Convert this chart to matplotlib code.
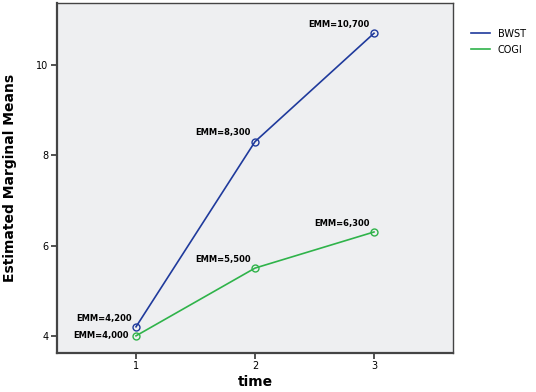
import matplotlib
matplotlib.use('agg')
import matplotlib.pyplot as plt
from matplotlib.lines import Line2D

# ---------------- data --------------------
time = [1, 2, 3]
bwst = [4.2, 8.3, 10.7]
cogi = [4.0, 5.5, 6.3]
bwst_lbl = ["EMM=4,200", "EMM=8,300", "EMM=10,700"]
cogi_lbl = ["EMM=4,000", "EMM=5,500", "EMM=6,300"]

blue = '#1f3a9c'
green = '#2fb34a'

fig = plt.figure(figsize=(5.36, 3.92), dpi=100)
ax = fig.add_axes([57/536, 1 - 353/392, 396/536, 350/392])
ax.set_facecolor('#eeeff1')

ax.plot(time, bwst, color=blue, lw=1.2, marker='o', ms=5, mfc='none', mec=blue, mew=1)
ax.plot(time, cogi, color=green, lw=1.2, marker='o', ms=5, mfc='none', mec=green, mew=1)

# labels next to the points
for x, y, t in zip(time, bwst, bwst_lbl):
    ax.annotate(t, (x, y), xytext=(-3, 3), textcoords='offset points',
                ha='right', va='bottom', fontsize=6, fontweight='bold')
for i, (x, y, t) in enumerate(zip(time, cogi, cogi_lbl)):
    if i == 0:
        ax.annotate(t, (x, y), xytext=(-5, 0), textcoords='offset points',
                    ha='right', va='center', fontsize=6, fontweight='bold')
    else:
        ax.annotate(t, (x, y), xytext=(-3, 3), textcoords='offset points',
                    ha='right', va='bottom', fontsize=6, fontweight='bold')

ax.set_xlim(0.336, 3.664)
ax.set_ylim(3.62, 11.37)
ax.set_xticks(time)
ax.set_yticks([4, 6, 8, 10])
ax.tick_params(labelsize=7, length=4, width=1.2, color='#333333', pad=2)

for s in ax.spines.values():
    s.set_color('#444444')
    s.set_linewidth(1.0)
ax.spines['left'].set_linewidth(1.6)
ax.spines['bottom'].set_linewidth(1.6)

ax.set_xlabel('time', fontsize=10, fontweight='bold', labelpad=3)
ax.set_ylabel('Estimated Marginal Means', fontsize=10, fontweight='bold', labelpad=14)

handles = [Line2D([], [], color=blue, lw=1.2), Line2D([], [], color=green, lw=1.2)]
fig.legend(handles, ['BWST', 'COGI'], loc='upper left',
           bbox_to_anchor=(462/536, 1 - 20/392), frameon=False,
           fontsize=7, handlelength=2.0, labelspacing=0.6)

plt.savefig('out.png', dpi=100)
plt.close('all')
